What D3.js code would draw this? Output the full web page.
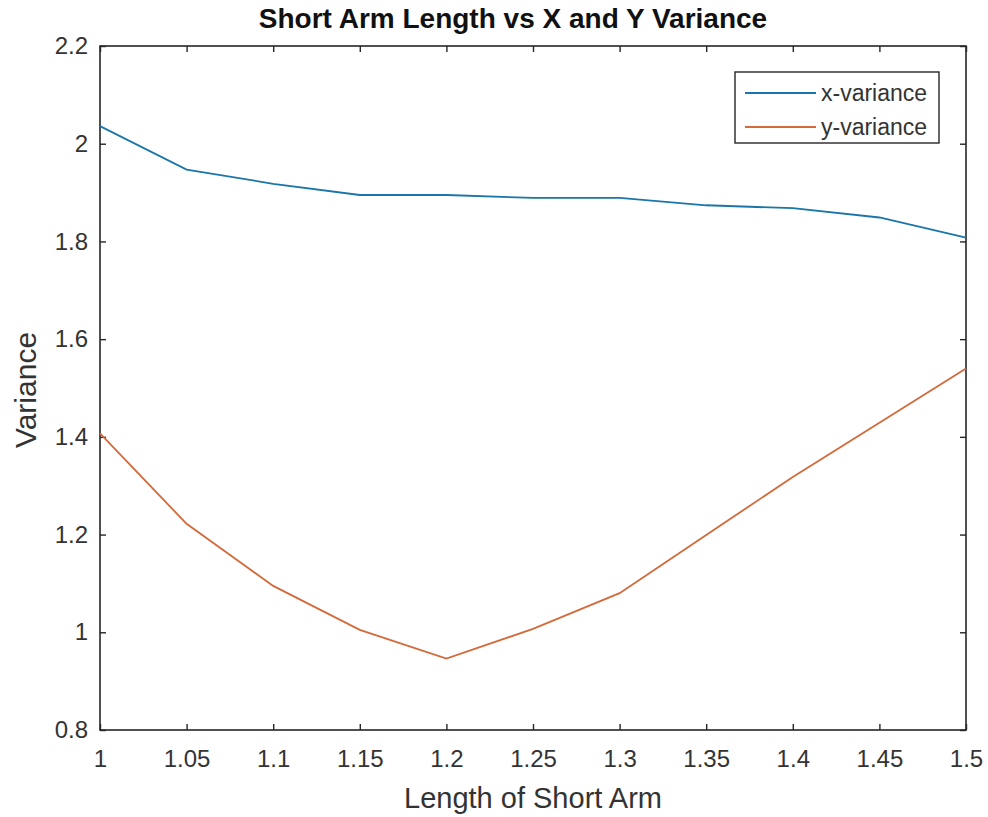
<!DOCTYPE html>
<html><head><meta charset="utf-8">
<script src="https://cdn.jsdelivr.net/npm/d3@7"></script>
<style>body{margin:0;background:#fff}text{font-family:"Liberation Sans",Arial,sans-serif}</style>
</head><body><svg id="c" width="988" height="817"></svg>
<script>
const armLength = [1, 1.05, 1.1, 1.15, 1.2, 1.25, 1.3, 1.35, 1.4, 1.45, 1.5];
const xVariance = [2.036, 1.947, 1.918, 1.895, 1.895, 1.889, 1.889, 1.874, 1.868, 1.849, 1.808];
const yVariance = [1.407, 1.222, 1.095, 1.005, 0.946, 1.007, 1.080, 1.199, 1.318, 1.429, 1.540];
const xTicks = [1, 1.05, 1.1, 1.15, 1.2, 1.25, 1.3, 1.35, 1.4, 1.45, 1.5];
const yTicks = [0.8, 1, 1.2, 1.4, 1.6, 1.8, 2, 2.2];
const seriesNames = ["x-variance", "y-variance"];
const seriesColors = ["#1a76a8", "#d4693a"];

const svg = d3.select("#c");
const L = 100, R = 966, T = 46, B = 730;
const x = d3.scaleLinear().domain([1, 1.5]).range([L, R]);
const y = d3.scaleLinear().domain([0.8, 2.2]).range([B, T]);
const axisColor = "#262626";
const fs = 24;

svg.append("rect").attr("x", L).attr("y", T).attr("width", R - L).attr("height", B - T)
  .attr("fill", "#fff").attr("stroke", axisColor).attr("stroke-width", 1.6);

const fmt = d => String(+d.toFixed(2));
const styleAxis = g => {
  g.select(".domain").remove();
  g.selectAll(".tick line").attr("stroke", axisColor).attr("stroke-width", 1.4);
  g.selectAll(".tick text").attr("fill", "#333").attr("font-size", fs);
};
svg.append("g").attr("transform", `translate(0,${B})`)
  .call(d3.axisBottom(x).tickValues(xTicks).tickFormat(fmt).tickSizeInner(-6).tickSizeOuter(0).tickPadding(20))
  .call(styleAxis);
svg.append("g").attr("transform", `translate(0,${T})`)
  .call(d3.axisTop(x).tickValues(xTicks).tickFormat("").tickSizeInner(-6).tickSizeOuter(0))
  .call(styleAxis);
svg.append("g").attr("transform", `translate(${L},0)`)
  .call(d3.axisLeft(y).tickValues(yTicks).tickFormat(fmt).tickSizeInner(-6).tickSizeOuter(0).tickPadding(12))
  .call(styleAxis);
svg.append("g").attr("transform", `translate(${R},0)`)
  .call(d3.axisRight(y).tickValues(yTicks).tickFormat("").tickSizeInner(-6).tickSizeOuter(0))
  .call(styleAxis);

const line = d3.line().x((d, i) => x(armLength[i])).y(d => y(d));
[xVariance, yVariance].forEach((s, k) => {
  svg.append("path").datum(s).attr("d", line).attr("fill", "none")
    .attr("stroke", seriesColors[k]).attr("stroke-width", 1.8);
});

svg.append("text").attr("x", 513).attr("y", 28).attr("text-anchor", "middle")
  .attr("font-size", 28).attr("font-weight", "bold").attr("fill", "#111").text("Short Arm Length vs X and Y Variance");
svg.append("text").attr("x", 533).attr("y", 808).attr("text-anchor", "middle")
  .attr("font-size", 29).attr("fill", "#333").text("Length of Short Arm");
svg.append("text").attr("transform", "translate(36,390) rotate(-90)").attr("text-anchor", "middle")
  .attr("font-size", 30).attr("fill", "#333").text("Variance");

const lg = svg.append("g");
lg.append("rect").attr("x", 735).attr("y", 72).attr("width", 204).attr("height", 71)
  .attr("fill", "#fff").attr("stroke", axisColor).attr("stroke-width", 1.4);
seriesNames.forEach((n, k) => {
  const yy = 93 + k * 34;
  lg.append("line").attr("x1", 745).attr("x2", 816).attr("y1", yy).attr("y2", yy)
    .attr("stroke", seriesColors[k]).attr("stroke-width", 1.8);
  lg.append("text").attr("x", 821).attr("y", yy + 8).attr("font-size", 23).attr("fill", "#333").text(n);
});
</script></body></html>
